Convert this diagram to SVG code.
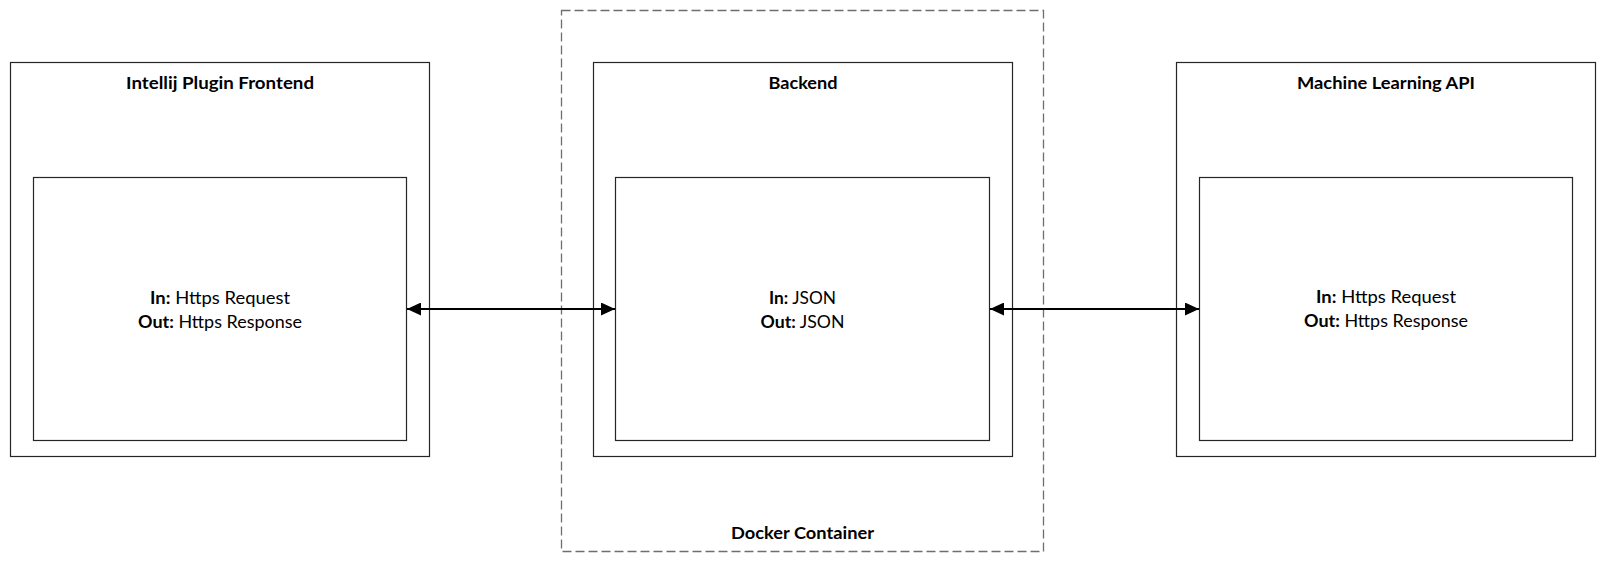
<svg xmlns="http://www.w3.org/2000/svg" width="1606" height="564" viewBox="0 0 1606 564">
  <style>
    .box { fill: #ffffff; stroke: #262626; stroke-width: 1.2; }
    .container { fill: none; stroke: #6e6e6e; stroke-width: 1.3; stroke-dasharray: 9 4; }
    .title { font-family: Lato, "Open Sans", "Liberation Sans", sans-serif; font-size: 17px; font-weight: bold; fill: #000000; text-anchor: middle; }
    .body { font-family: Lato, "Open Sans", "Liberation Sans", sans-serif; font-size: 16.5px; fill: #000000; text-anchor: middle; }
    .b { font-weight: bold; }
    .conn { stroke: #000000; stroke-width: 2; fill: none; marker-start: url(#arrow); marker-end: url(#arrow); }
  </style>
  <defs>
    <marker id="arrow" markerUnits="userSpaceOnUse" markerWidth="14" markerHeight="13" refX="14" refY="6.5" orient="auto-start-reverse">
      <path d="M0,0 L14,6.5 L0,13 Z" fill="#000000"/>
    </marker>
  </defs>
  <rect width="1606" height="564" fill="#ffffff"/>

  <g id="docker-container">
    <rect class="container" x="561.5" y="10.5" width="482" height="541"/>
    <text class="title" x="802.5" y="538.5" textLength="143" lengthAdjust="spacingAndGlyphs">Docker Container</text>
  </g>

  <g id="frontend">
    <rect class="box" x="10.5" y="62.5" width="419" height="394"/>
    <text class="title" x="220" y="88.5" textLength="188" lengthAdjust="spacingAndGlyphs">Intellij Plugin Frontend</text>
    <g id="frontend-io">
      <rect class="box" x="33.5" y="177.5" width="373" height="263"/>
      <text class="body" x="220" y="303.5" textLength="140" lengthAdjust="spacingAndGlyphs"><tspan class="b">In:</tspan> Https Request</text>
      <text class="body" x="220" y="327.5" textLength="164" lengthAdjust="spacingAndGlyphs"><tspan class="b">Out:</tspan> Https Response</text>
    </g>
  </g>

  <g id="backend">
    <rect class="box" x="593.5" y="62.5" width="419" height="394"/>
    <text class="title" x="803" y="88.5" textLength="69" lengthAdjust="spacingAndGlyphs">Backend</text>
    <g id="backend-io">
      <rect class="box" x="615.5" y="177.5" width="374" height="263"/>
      <text class="body" x="802.5" y="303.5" textLength="67" lengthAdjust="spacingAndGlyphs"><tspan class="b">In:</tspan> JSON</text>
      <text class="body" x="802.5" y="327.5" textLength="84" lengthAdjust="spacingAndGlyphs"><tspan class="b">Out:</tspan> JSON</text>
    </g>
  </g>

  <g id="ml-api">
    <rect class="box" x="1176.5" y="62.5" width="419" height="394"/>
    <text class="title" x="1386" y="88.5" textLength="178" lengthAdjust="spacingAndGlyphs">Machine Learning API</text>
    <g id="ml-api-io">
      <rect class="box" x="1199.5" y="177.5" width="373" height="263"/>
      <text class="body" x="1386" y="303" textLength="140" lengthAdjust="spacingAndGlyphs"><tspan class="b">In:</tspan> Https Request</text>
      <text class="body" x="1386" y="327" textLength="164" lengthAdjust="spacingAndGlyphs"><tspan class="b">Out:</tspan> Https Response</text>
    </g>
  </g>

  <g id="connectors">
    <line class="conn" x1="407" y1="309" x2="615" y2="309"/>
    <line class="conn" x1="990" y1="309" x2="1199" y2="309"/>
  </g>
</svg>
